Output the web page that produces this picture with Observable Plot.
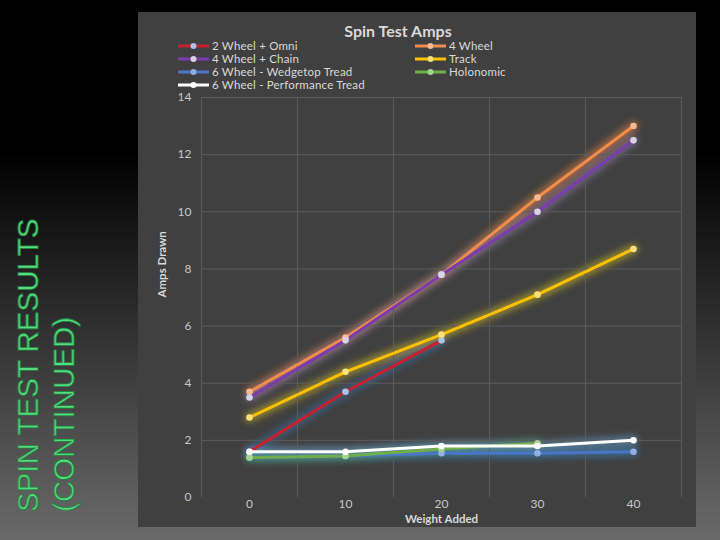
<!DOCTYPE html>
<html>
<head>
<meta charset="utf-8">
<script src="https://cdn.jsdelivr.net/npm/d3@7"></script>
<script src="https://cdn.jsdelivr.net/npm/@observablehq/plot@0.6"></script>
<style>
  html, body { margin: 0; padding: 0; }
  body {
    width: 720px; height: 540px; position: relative; overflow: hidden;
    background: linear-gradient(to bottom, #000 0%, #000 28%, #6a6a6a 100%);
    font-family: Lato, "Open Sans", sans-serif;
  }
  #box {
    position: absolute; left: 138px; top: 12px; width: 558px; height: 515px;
    background: #404040;
  }
  #title {
    position: absolute; left: 0; top: 9px; width: 520px; text-align: center;
    font-size: 16px; font-weight: bold; color: #d9d9d9;
  }
  .leg {
    position: absolute; display: flex; align-items: center;
    font-size: 11.5px; line-height: 11px; color: #d9d9d9; white-space: nowrap; height: 11px;
    letter-spacing: 0.2px;
  }
  .leg svg { margin-right: 3px; }
  #plot { position: absolute; left: 0; top: 76px; }
  #slideTitle { position: absolute; left: 0; top: 0; }
</style>
</head>
<body>
<svg id="slideTitle" width="100" height="540">
  <text transform="translate(38,512) rotate(-90)" font-family="Liberation Sans, Arial, sans-serif" font-size="29.5" fill="#55dc7e" stroke="#23803f" stroke-width="0.8">SPIN TEST RESULTS</text>
  <text transform="translate(74,512) rotate(-90)" font-family="Liberation Sans, Arial, sans-serif" font-size="29.5" fill="#55dc7e" stroke="#23803f" stroke-width="0.8">(CONTINUED)</text>
</svg>
<div id="box">
  <div id="title">Spin Test Amps</div>
  <div id="legend"></div>
  <div id="plot"></div>
</div>
<script>
// ---- data ----
const weights = [0, 10, 20, 30, 40];
const seriesNames = [
  "2 Wheel + Omni",
  "4 Wheel",
  "4 Wheel + Chain",
  "Track",
  "6 Wheel - Wedgetop Tread",
  "Holonomic",
  "6 Wheel - Performance Tread"
];
const omni        = [1.6, 3.7, 5.5, null, null];
const fourWheel   = [3.7, 5.6, 7.8, 10.5, 13.0];
const chain       = [3.5, 5.5, 7.8, 10.0, 12.5];
const track       = [2.8, 4.4, 5.7, 7.1, 8.7];
const wedgetop    = [1.4, 1.45, 1.55, 1.55, 1.6];
const holonomic   = [1.4, 1.45, 1.7, 1.9, null];
const performance = [1.6, 1.6, 1.8, 1.8, 2.0];
const yTicks = [0, 2, 4, 6, 8, 10, 12, 14];

const seriesValues = [omni, fourWheel, chain, track, wedgetop, holonomic, performance];
const lineColors   = ["#c8202c", "#f08c4c", "#7a3cae", "#ffc000", "#4a76c8", "#6fae4a", "#ffffff"];
const markerColors = ["#a9c4e6", "#f7b98f", "#d8d2e8", "#ffe07a", "#8fb0e0", "#a6d48e", "#ffffff"];
const glowColors   = ["#3a6ea5", "#f08a3c", "#9080a8", "#d8c020", "#3a8ac8", "#4aa060", "#6aa0d0"];

const rows = [];
seriesNames.forEach((name, i) => {
  seriesValues[i].forEach((v, j) => {
    if (v != null) rows.push({series: name, x: weights[j], y: v,
      line: lineColors[i], marker: markerColors[i], glow: glowColors[i]});
  });
});

// ---- legend ----
const legendPos = [
  [40, 28], [277, 28],
  [40, 41], [277, 41],
  [40, 54], [277, 54],
  [40, 67]
];
const legend = document.getElementById("legend");
seriesNames.forEach((name, i) => {
  const d = document.createElement("div");
  d.className = "leg";
  d.style.left = legendPos[i][0] + "px";
  d.style.top = (legendPos[i][1]) + "px";
  d.innerHTML = `<svg width="31" height="10"><line x1="0" x2="31" y1="5" y2="5" stroke="${lineColors[i]}" stroke-width="3"/><circle cx="15.5" cy="5" r="3" fill="${markerColors[i]}"/></svg>${name}`;
  legend.appendChild(d);
});

// ---- chart ----
const chart = Plot.plot({
  width: 558,
  height: 439,
  marginLeft: 63,
  marginRight: 15,
  marginTop: 9,
  marginBottom: 30,
  style: {background: "transparent", color: "#c8c8c8", fontFamily: "Lato, 'Open Sans', sans-serif", fontSize: "12px"},
  x: {domain: [-5, 45], ticks: weights, tickSize: 0, tickPadding: 2, label: null},
  y: {domain: [0, 14], ticks: yTicks, tickSize: 0, tickPadding: 10, label: null},
  color: {type: "identity"},
  marks: [
    Plot.line(rows, {x: "x", y: "y", z: "series", stroke: "glow", strokeWidth: 10, strokeOpacity: 0.5}),
    Plot.ruleY(yTicks.filter(t => t > 0), {stroke: "#5c5c5c", strokeWidth: 1}),
    Plot.ruleX([-5, 5, 15, 25, 35, 45], {y1: 0, y2: 14, stroke: "#5c5c5c", strokeWidth: 1}),
    Plot.line(rows, {x: "x", y: "y", z: "series", stroke: "line", strokeWidth: 3}),
    Plot.dot(rows, {x: "x", y: "y", fill: "marker", r: 3.3}),
    Plot.text(["Amps Drawn"], {text: d => d, frameAnchor: "left", dx: -39, rotate: -90, fontWeight: "bold", fill: "#d9d9d9", fontSize: 11.5}),
    Plot.text(["Weight Added"], {text: d => d, frameAnchor: "bottom", dy: 25, fontWeight: "bold", fill: "#d9d9d9", fontSize: 11.5})
  ]
});
document.getElementById("plot").appendChild(chart);

// glow filter on the first (glow) line mark
const svg = d3.select(chart);
const defs = svg.insert("defs", ":first-child");
const f = defs.append("filter").attr("id", "glow").attr("x", "-20%").attr("y", "-20%").attr("width", "140%").attr("height", "140%");
f.append("feGaussianBlur").attr("stdDeviation", 3);
svg.select('g[aria-label="line"]').attr("filter", "url(#glow)");
</script>
</body>
</html>
